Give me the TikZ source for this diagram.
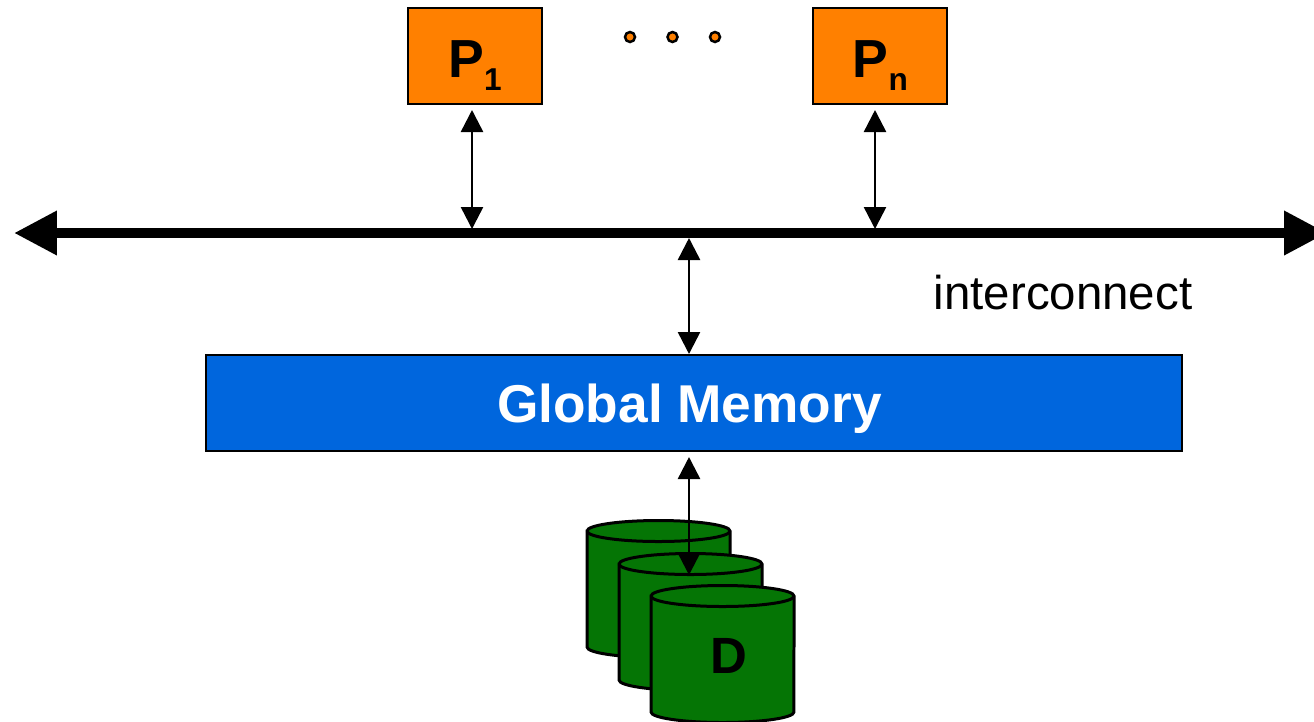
\documentclass[tikz,border=0pt]{standalone}
\usepackage{fontspec}
\setmainfont{Liberation Sans}
\usepackage{xcolor}
\usetikzlibrary{arrows.meta}
\definecolor{procorange}{HTML}{FF8000}
\definecolor{memblue}{HTML}{0066DD}
\definecolor{diskgreen}{HTML}{057505}
\newcommand{\subsc}[1]{\raisebox{-0.26cm}{\fontsize{18}{18}\selectfont #1}}
\newcommand{\drawdisk}[2]{
	\draw[disk] (#1-71.5,#2) -- (#1-71.5,#2+116) arc[start angle=180,end angle=360,x radius=1.43cm,y radius=0.21cm] -- (#1+71.5,#2) arc[start angle=0,end angle=180,x radius=1.43cm,y radius=0.21cm] -- cycle;
	\draw[disk] (#1-71.5,#2) arc[start angle=180,end angle=360,x radius=1.43cm,y radius=0.21cm];
}

\begin{document}
\begin{tikzpicture}[x=0.02cm,y=-0.02cm]
\tikzstyle{procbox} = [draw=black,line width=0.04cm,fill=procorange,minimum width=2.68cm,minimum height=1.92cm,inner sep=0pt]
\tikzstyle{proclabel} = [anchor=base,inner sep=0pt,font=\fontsize{30.5}{30}\selectfont\bfseries]
\tikzstyle{membox} = [draw=black,line width=0.04cm,fill=memblue,minimum width=19.52cm,minimum height=1.92cm,inner sep=0pt]
\tikzstyle{memlabel} = [anchor=base,text=white,inner sep=0pt,font=\fontsize{30.3}{30}\selectfont\bfseries]
\tikzstyle{dotnode} = [circle,draw=black,line width=0.05cm,fill=procorange,minimum size=0.2cm,inner sep=0pt]
\tikzstyle{disk} = [draw=black,line width=0.06cm,fill=diskgreen,line join=miter]
\tikzstyle{busline} = [line width=0.2cm,{Triangle[length=0.86cm,width=0.84cm]}-{Triangle[length=0.86cm,width=0.84cm]}]
\tikzstyle{link} = [line width=0.05cm,{Triangle[length=0.44cm,width=0.44cm]}-{Triangle[length=0.44cm,width=0.44cm]}]
%
	\useasboundingbox (0,0) rectangle (1314,721);

	\node[procbox] (p1) at (475,56) {};
	\node[proclabel] (p1text) at (475,77) {P\subsc{1}};
	\node[procbox] (pn) at (880,56) {};
	\node[proclabel] (pntext) at (880.5,77) {P\subsc{n}};
	\node[dotnode] (dot1) at (630,37) {};
	\node[dotnode] (dot2) at (672.5,37) {};
	\node[dotnode] (dot3) at (715,37) {};

	% bus
	\coordinate (busleft) at (14,233);
	\coordinate (busright) at (1327,233);
	\draw[busline] (busleft) -- (busright);
	\node[font=\fontsize{27}{30}\selectfont] (bus) at (1063,293) {interconnect};

	\node[membox] (mem) at (694,403) {};
	\node[memlabel] (memtext) at (689.5,422) {Global Memory};

	\drawdisk{658.5}{531}
	\drawdisk{690.5}{564}
	\drawdisk{722.5}{596}
	\node[font=\fontsize{29}{30}\selectfont\bfseries] (dlabel) at (729,656) {D};

	% links
	\coordinate (busp1) at (472,229);
	\coordinate (buspn) at (875,229);
	\coordinate (busmem) at (689,238);
	\coordinate (memtop) at (689,354);
	\coordinate (membot) at (689,457);
	\coordinate (disktop) at (689,575);
	\coordinate (p1bot) at (472,110);
	\coordinate (pnbot) at (875,110);
	\draw[link] (p1bot) -- (busp1);
	\draw[link] (pnbot) -- (buspn);
	\draw[link] (busmem) -- (memtop);
	\draw[link] (membot) -- (disktop);
\end{tikzpicture}
\end{document}
